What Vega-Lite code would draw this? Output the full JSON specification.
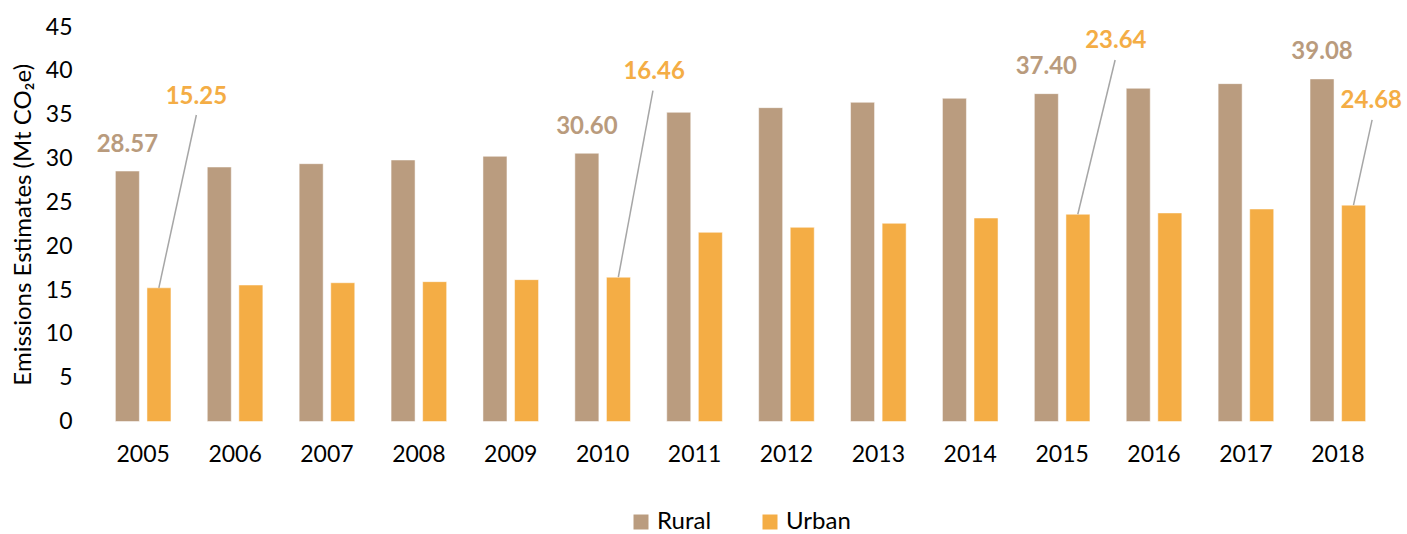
{
  "$schema": "https://vega.github.io/schema/vega-lite/v6.json",
  "width": 1287,
  "height": 394.5,
  "autosize": {"type": "none"},
  "padding": {"left": 97, "top": 27, "right": 23, "bottom": 112.5},
  "background": "white",
  "config": {
    "font": "Lato",
    "view": {"stroke": null},
    "axis": {"domain": false, "ticks": false, "tickSize": 0, "grid": false, "labelFont": "Lato", "labelFontSize": 23, "labelColor": "#000000", "titleFont": "Lato", "titleColor": "#000000"}
  },
  "data": {
    "values": [
      {"year": 2005, "series": "Rural", "value": 28.57},
      {"year": 2006, "series": "Rural", "value": 29.03},
      {"year": 2007, "series": "Rural", "value": 29.41},
      {"year": 2008, "series": "Rural", "value": 29.83},
      {"year": 2009, "series": "Rural", "value": 30.25},
      {"year": 2010, "series": "Rural", "value": 30.60},
      {"year": 2011, "series": "Rural", "value": 35.27},
      {"year": 2012, "series": "Rural", "value": 35.80},
      {"year": 2013, "series": "Rural", "value": 36.41},
      {"year": 2014, "series": "Rural", "value": 36.87},
      {"year": 2015, "series": "Rural", "value": 37.40},
      {"year": 2016, "series": "Rural", "value": 38.01},
      {"year": 2017, "series": "Rural", "value": 38.54},
      {"year": 2018, "series": "Rural", "value": 39.08},
      {"year": 2005, "series": "Urban", "value": 15.25},
      {"year": 2006, "series": "Urban", "value": 15.57},
      {"year": 2007, "series": "Urban", "value": 15.83},
      {"year": 2008, "series": "Urban", "value": 15.95},
      {"year": 2009, "series": "Urban", "value": 16.18},
      {"year": 2010, "series": "Urban", "value": 16.46},
      {"year": 2011, "series": "Urban", "value": 21.58},
      {"year": 2012, "series": "Urban", "value": 22.15},
      {"year": 2013, "series": "Urban", "value": 22.61},
      {"year": 2014, "series": "Urban", "value": 23.21},
      {"year": 2015, "series": "Urban", "value": 23.64},
      {"year": 2016, "series": "Urban", "value": 23.79},
      {"year": 2017, "series": "Urban", "value": 24.24},
      {"year": 2018, "series": "Urban", "value": 24.68}
    ]
  },
  "encoding": {
    "x": {
      "field": "year", "type": "ordinal",
      "scale": {"paddingInner": 0.395, "paddingOuter": 0.2},
      "axis": {"title": null, "labelAngle": 0, "labelPadding": 22}
    },
    "y": {
      "field": "value", "type": "quantitative",
      "scale": {"domain": [0, 45], "nice": false, "zero": true},
      "axis": {"title": "Emissions Estimates (Mt CO₂e)", "titleFontSize": 24, "titleFontWeight": "normal", "titlePadding": 10, "values": [0, 5, 10, 15, 20, 25, 30, 35, 40, 45], "labelPadding": 25}
    }
  },
  "layer": [
    {
      "mark": {"type": "bar", "stroke": "#ffffff", "strokeOpacity": 0.5, "strokeWidth": 1},
      "encoding": {
        "xOffset": {"field": "series", "type": "nominal", "scale": {"paddingInner": 0.24, "paddingOuter": 0}},
        "color": {
          "field": "series", "type": "nominal",
          "scale": {"domain": ["Rural", "Urban"], "range": ["#BA9C7F", "#F4AD45"]},
          "legend": {"title": null, "orient": "none", "legendX": 532, "legendY": 483, "padding": 0, "direction": "horizontal", "symbolType": "square", "symbolSize": 225, "symbolStrokeWidth": 0, "labelFont": "Lato", "labelFontSize": 24, "labelColor": "#000000", "labelLimit": 300, "columnPadding": 46, "labelOffset": 4}
        }
      }
    },
    {
      "transform": [{"filter": "datum.series == 'Rural' && (datum.year == 2005 || datum.year == 2010 || datum.year == 2015 || datum.year == 2018)"}],
      "mark": {"type": "text", "font": "Lato", "fontWeight": "bold", "fontSize": 24, "color": "#B99B7D", "align": "center", "baseline": "alphabetic", "dy": -19.5},
      "encoding": {
        "xOffset": {"field": "series", "type": "nominal", "scale": {"paddingInner": 0.24, "paddingOuter": 0}},
        "text": {"field": "value", "type": "quantitative", "format": ".2f"}
      }
    },
    {
      "transform": [{"filter": "datum.series == 'Urban' && datum.year == 2005"}],
      "mark": {"type": "rule", "color": "#A6A6A6", "strokeWidth": 1.5, "x2Offset": 37.5, "y2Offset": -172.8},
      "encoding": {
        "x": {"field": "year", "type": "ordinal", "bandPosition": 0.782},
        "x2": {"field": "year", "bandPosition": 0.782},
        "y2": {"field": "value"}
      }
    },
    {
      "transform": [{"filter": "datum.series == 'Urban' && datum.year == 2010"}],
      "mark": {"type": "rule", "color": "#A6A6A6", "strokeWidth": 1.5, "x2Offset": 34.6, "y2Offset": -186.5},
      "encoding": {
        "x": {"field": "year", "type": "ordinal", "bandPosition": 0.782},
        "x2": {"field": "year", "bandPosition": 0.782},
        "y2": {"field": "value"}
      }
    },
    {
      "transform": [{"filter": "datum.series == 'Urban' && datum.year == 2015"}],
      "mark": {"type": "rule", "color": "#A6A6A6", "strokeWidth": 1.5, "x2Offset": 37.3, "y2Offset": -154.3},
      "encoding": {
        "x": {"field": "year", "type": "ordinal", "bandPosition": 0.782},
        "x2": {"field": "year", "bandPosition": 0.782},
        "y2": {"field": "value"}
      }
    },
    {
      "transform": [{"filter": "datum.series == 'Urban' && datum.year == 2018"}],
      "mark": {"type": "rule", "color": "#A6A6A6", "strokeWidth": 1.5, "x2Offset": 18.6, "y2Offset": -85.2},
      "encoding": {
        "x": {"field": "year", "type": "ordinal", "bandPosition": 0.782},
        "x2": {"field": "year", "bandPosition": 0.782},
        "y2": {"field": "value"}
      }
    },
    {
      "transform": [{"filter": "datum.series == 'Urban' && datum.year == 2005"}],
      "mark": {"type": "text", "font": "Lato", "fontWeight": "bold", "fontSize": 24, "color": "#F4AD45", "align": "center", "baseline": "alphabetic", "dx": 37.5, "dy": -184.3},
      "encoding": {
        "x": {"field": "year", "type": "ordinal", "bandPosition": 0.782},
        "text": {"field": "value", "type": "quantitative", "format": ".2f"}
      }
    },
    {
      "transform": [{"filter": "datum.series == 'Urban' && datum.year == 2010"}],
      "mark": {"type": "text", "font": "Lato", "fontWeight": "bold", "fontSize": 24, "color": "#F4AD45", "align": "center", "baseline": "alphabetic", "dx": 35.8, "dy": -198},
      "encoding": {
        "x": {"field": "year", "type": "ordinal", "bandPosition": 0.782},
        "text": {"field": "value", "type": "quantitative", "format": ".2f"}
      }
    },
    {
      "transform": [{"filter": "datum.series == 'Urban' && datum.year == 2015"}],
      "mark": {"type": "text", "font": "Lato", "fontWeight": "bold", "fontSize": 24, "color": "#F4AD45", "align": "center", "baseline": "alphabetic", "dx": 38, "dy": -165.8},
      "encoding": {
        "x": {"field": "year", "type": "ordinal", "bandPosition": 0.782},
        "text": {"field": "value", "type": "quantitative", "format": ".2f"}
      }
    },
    {
      "transform": [{"filter": "datum.series == 'Urban' && datum.year == 2018"}],
      "mark": {"type": "text", "font": "Lato", "fontWeight": "bold", "fontSize": 24, "color": "#F4AD45", "align": "center", "baseline": "alphabetic", "dx": 17.8, "dy": -96.7},
      "encoding": {
        "x": {"field": "year", "type": "ordinal", "bandPosition": 0.782},
        "text": {"field": "value", "type": "quantitative", "format": ".2f"}
      }
    }
  ]
}
